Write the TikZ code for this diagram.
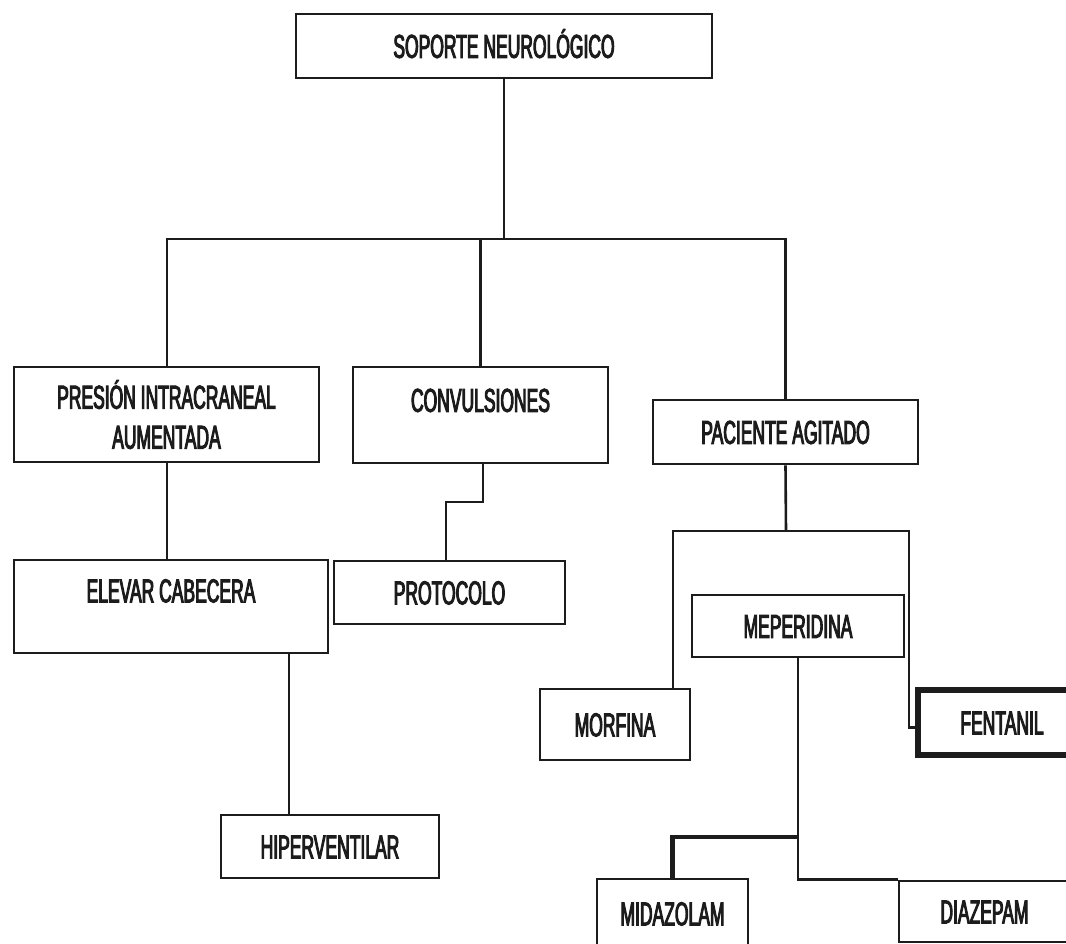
\documentclass[tikz,border=0pt]{standalone}
\usepackage{fontspec}
\setmainfont{Liberation Sans}[FakeStretch=0.53,FakeBold=3]
\usetikzlibrary{calc}
\definecolor{ink}{HTML}{1C1C1C}
\begin{document}
\begin{tikzpicture}[x=1pt,y=-1pt,
  box/.style={draw=ink,line width=2.8pt,inner sep=0pt,rectangle,text=ink,
    font=\fontsize{33}{40}\selectfont,align=center,
    text height=23.6pt,text depth=0pt},
  twoline/.style={box,text height=,text depth=},
  heavybox/.style={box,line width=5.5pt},
  link/.style={draw=ink,line width=2.6pt,line join=miter},
  heavylink/.style={draw=ink,line width=4.5pt,line join=miter}]
\useasboundingbox (0,0) rectangle (1066,943);
\clip (0,0) rectangle (1066,943);
\fill[white] (0,0) rectangle (1066,943);

% boxes
\node[box,minimum width=416pt,minimum height=64pt] (top) at (504,46) {SOPORTE NEUROLÓGICO};
\node[twoline,minimum width=305pt,minimum height=95pt] (presion) at (166.5,414.5)
  {PRESIÓN INTRACRANEAL\\AUMENTADA};
\node[box,minimum width=255pt,minimum height=96pt,text depth=30pt] (convul) at (480.5,415) {CONVULSIONES};
\node[box,minimum width=265pt,minimum height=64pt] (paciente) at (785.5,432) {PACIENTE AGITADO};
\node[box,minimum width=314pt,minimum height=93pt,text depth=32pt] (elevar) at (171,606.5) {ELEVAR CABECERA};
\node[box,minimum width=231pt,minimum height=63pt] (protocolo) at (449.5,592.5) {PROTOCOLO};
\node[box,minimum width=218pt,minimum height=63pt] (hiper) at (330,846.5) {HIPERVENTILAR};
\node[box,minimum width=212pt,minimum height=62pt] (meperidina) at (798,626) {MEPERIDINA};
\node[box,minimum width=150pt,minimum height=71pt] (morfina) at (615,724.5) {MORFINA};
\node[heavybox,minimum width=168pt,minimum height=65pt] (fentanil) at (1002,722.5) {FENTANIL};
\node[box,minimum width=151pt,minimum height=69pt] (midazolam) at (672.5,913.5) {MIDAZOLAM};
\node[box,minimum width=171pt,minimum height=61pt] (diazepam) at (984.5,911.5) {DIAZEPAM};

% junction points
\coordinate (bus) at (504,239);
\coordinate (cj) at (446,502);
\coordinate (hj) at (289,653);
\coordinate (pj) at (786,531);
\coordinate (mj) at (798,837);

% connectors
\draw[link] (top.south) -- (bus);
\draw[link] (presion.north -| 167,0) |- (bus) -| (paciente.north);
\draw[link] (convul.north) -- (convul.north |- bus);
\draw[link] (presion.south -| 167,0) -- (elevar.north -| 167,0);
\draw[link] ([xshift=2.5pt]convul.south) |- (cj) -- (cj |- protocolo.north);
\draw[link] (hj) -- (hj |- hiper.north);
\draw[link] (paciente.south) -- (pj);
\draw[link] (morfina.north -| 673,0) |- (pj) -| (909,727.5) -- ([yshift=-5pt]fentanil.west);
\draw[link] (meperidina.south) |- (diazepam.north west);
\draw[heavylink] (mj) -| (midazolam.north);
\end{tikzpicture}
\end{document}
